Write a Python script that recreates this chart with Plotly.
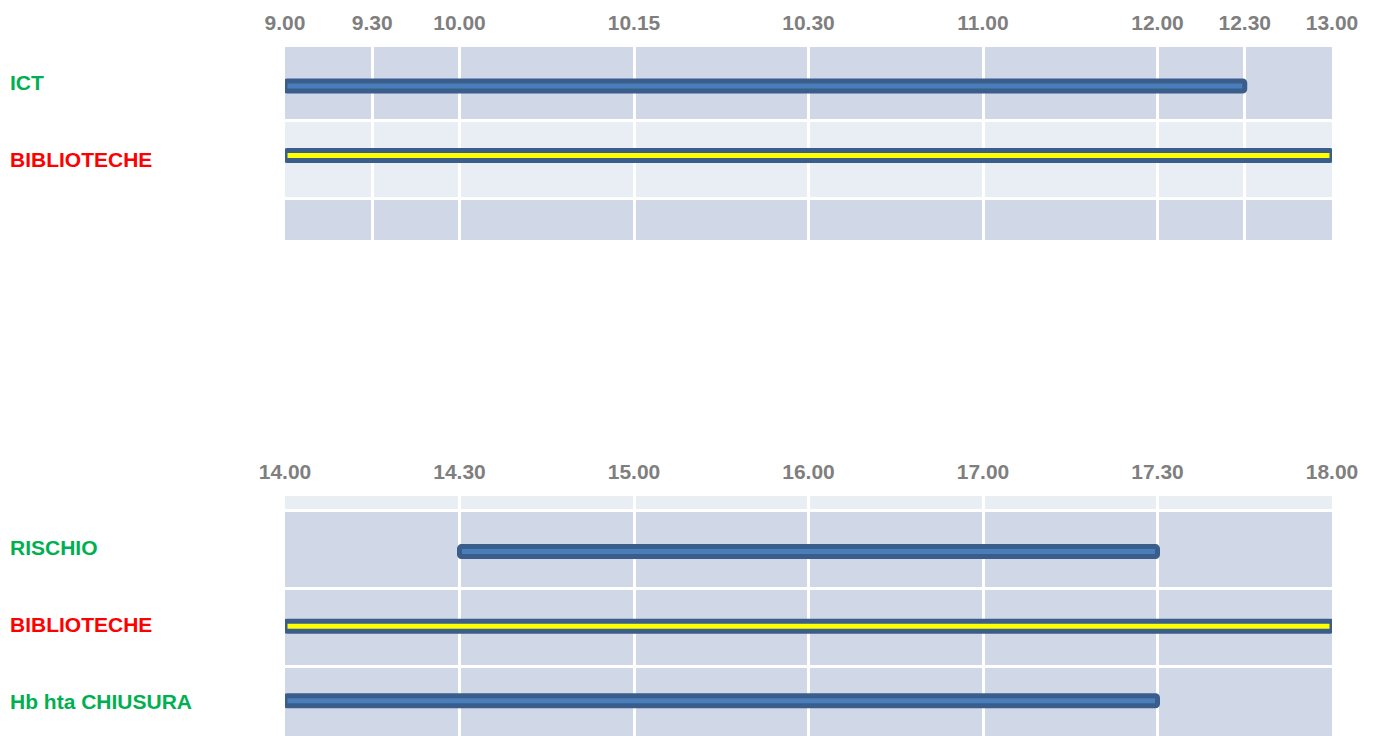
import plotly.graph_objects as go

# ---- data ----
am_tick_pos = [0, 0.5, 1, 2, 3, 4, 5, 5.5, 6]
am_tick_labels = ["9.00", "9.30", "10.00", "10.15", "10.30", "11.00", "12.00", "12.30", "13.00"]
am_tasks = ["ICT", "BIBLIOTECHE"]
am_start = [0, 0]
am_end = [5.5, 6]
am_label_colors = ["#00b050", "#ff0000"]
am_fill = ["#4a7ebb", "#ffff00"]

pm_tick_pos = [0, 1, 2, 3, 4, 5, 6]
pm_tick_labels = ["14.00", "14.30", "15.00", "16.00", "17.00", "17.30", "18.00"]
pm_tasks = ["RISCHIO", "BIBLIOTECHE", "Hb hta CHIUSURA"]
pm_start = [1, 0, 0]
pm_end = [5, 6, 5]
pm_label_colors = ["#00b050", "#ff0000", "#00b050"]
pm_fill = ["#4a7ebb", "#ffff00", "#4a7ebb"]

W, H = 1373, 736
DARK = "#d0d8e8"
LIGHT = "#e9edf4"
BORDER = "#3a5d8c"
TICK_GRAY = "#7f7f7f"
FONT = "Liberation Sans, Arial, sans-serif"

fig = go.Figure()

fig.add_trace(go.Bar(
    orientation="h",
    y=list(range(len(am_tasks))),
    base=am_start,
    x=[e - s for s, e in zip(am_start, am_end)],
    width=0.144,
    marker=dict(color=am_fill, line=dict(color=BORDER, width=5), cornerradius=2),
    xaxis="x", yaxis="y",
    hovertext=am_tasks, showlegend=False,
))
fig.add_trace(go.Bar(
    orientation="h",
    y=list(range(len(pm_tasks))),
    base=pm_start,
    x=[e - s for s, e in zip(pm_start, pm_end)],
    width=0.134,
    marker=dict(color=pm_fill, line=dict(color=BORDER, width=5), cornerradius=2),
    xaxis="x2", yaxis="y2",
    hovertext=pm_tasks, showlegend=False,
))

xdom = [285 / W, 1332 / W]
tickfont = dict(family=FONT, size=21, color=TICK_GRAY, weight="bold")
xcommon = dict(
    domain=xdom, range=[0, 6], side="top", showgrid=True, gridcolor="white",
    gridwidth=3, zeroline=False, showline=False, ticks="", ticklabelstandoff=12,
    tickfont=tickfont, automargin=False,
)
ycommon = dict(showticklabels=False, showgrid=True, gridcolor="white", gridwidth=3,
               zeroline=False, automargin=False)
fig.update_layout(
    xaxis=dict(anchor="y", tickvals=am_tick_pos, ticktext=am_tick_labels, **xcommon),
    yaxis=dict(domain=[1 - 240 / H, 1 - 47 / H], anchor="x", range=[2.216, -0.561],
               tickvals=[0.496, 1.616], **ycommon),
    xaxis2=dict(anchor="y2", tickvals=pm_tick_pos, ticktext=pm_tick_labels, **xcommon),
    yaxis2=dict(domain=[0, 1 - 496 / H], anchor="x2", range=[2.473, -0.745],
                tickvals=[-0.551, 0.490, 1.539], **ycommon),
    barmode="overlay",
    width=W, height=H,
    margin=dict(l=0, r=0, t=0, b=0, autoexpand=False),
    paper_bgcolor="white",
    plot_bgcolor=DARK,
    showlegend=False,
)

# lighter bands
fig.add_shape(type="rect", xref="x domain", yref="y", x0=0, x1=1, y0=0.496, y1=1.616,
              fillcolor=LIGHT, line_width=0, layer="below")
fig.add_shape(type="rect", xref="x2 domain", yref="y2", x0=0, x1=1, y0=-0.745, y1=-0.551,
              fillcolor=LIGHT, line_width=0, layer="below")

# task labels
am_shift = [3, -4]
for i, (t, c) in enumerate(zip(am_tasks, am_label_colors)):
    fig.add_annotation(text=t, xref="paper", x=8 / W, xanchor="left", yref="y", y=i,
                       yanchor="middle", yshift=am_shift[i], showarrow=False,
                       font=dict(family=FONT, size=21, color=c, weight="bold"))
pm_shift = [4, 2, -1]
for i, (t, c) in enumerate(zip(pm_tasks, pm_label_colors)):
    fig.add_annotation(text=t, xref="paper", x=8 / W, xanchor="left", yref="y2", y=i,
                       yanchor="middle", yshift=pm_shift[i], showarrow=False,
                       font=dict(family=FONT, size=21, color=c, weight="bold"))

fig.write_html("out.html", config={"displayModeBar": False},
               post_script="document.body.style.margin='0';document.body.style.overflow='hidden';")
